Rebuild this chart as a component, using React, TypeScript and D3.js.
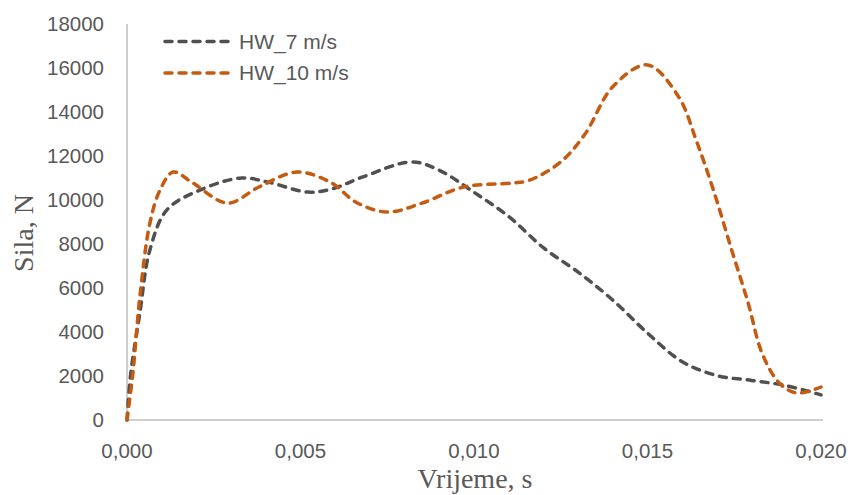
import React from "react";
import * as d3 from "d3";

const yTicks = [0, 2000, 4000, 6000, 8000, 10000, 12000, 14000, 16000, 18000];
const xTicks = [0, 0.005, 0.01, 0.015, 0.02];

const seriesNames = ["HW_7 m/s", "HW_10 m/s"];

const times7 = [0, 0.0001, 0.00037, 0.00066, 0.00115, 0.0021, 0.0033, 0.0041, 0.0052, 0.0059, 0.0068, 0.0082, 0.009, 0.01, 0.011, 0.012, 0.013, 0.014, 0.015, 0.016, 0.017, 0.018, 0.019, 0.02];
const values7 = [0, 2000, 4860, 7730, 9550, 10450, 11000, 10800, 10360, 10500, 11050, 11730, 11350, 10350, 9250, 7830, 6720, 5450, 3950, 2650, 2020, 1800, 1560, 1140];

const times10 = [0, 0.00017, 0.00037, 0.00066, 0.00095, 0.00133, 0.0019, 0.0029, 0.0038, 0.0049, 0.0059, 0.0066, 0.0075, 0.0085, 0.0097, 0.0111, 0.0116, 0.0125, 0.0132, 0.014, 0.015, 0.0159, 0.0164, 0.0169, 0.0174, 0.0179, 0.0183, 0.0188, 0.0193, 0.02];
const values10 = [0, 2136, 5590, 8950, 10450, 11270, 10770, 9860, 10590, 11270, 10770, 9900, 9450, 9860, 10590, 10770, 10900, 11730, 13000, 15150, 16140, 14680, 12730, 10450, 7860, 5320, 3045, 1680, 1230, 1500];

const colors = ["#505050", "#C55A11"];

export default function App() {
  const W = 851, H = 495;
  const x = d3.scaleLinear().domain([0, 0.02]).range([127, 821]);
  const y = d3.scaleLinear().domain([0, 18000]).range([420, 24]);
  const line = d3
    .line<[number, number]>()
    .x((d) => x(d[0]))
    .y((d) => y(d[1]))
    .curve(d3.curveCatmullRom.alpha(0.5));

  const series = [
    times7.map((t, i) => [t, values7[i]] as [number, number]),
    times10.map((t, i) => [t, values10[i]] as [number, number]),
  ];

  const fmtX = (v: number) => v.toFixed(3).replace(".", ",");
  const tickFont = "'Liberation Sans', Arial, sans-serif";
  const serif = "'Liberation Serif', 'Times New Roman', serif";

  return (
    <svg width={W} height={H} style={{ position: "absolute", left: 0, top: 0, background: "#fff" }}>
      <line x1={x(0)} x2={x(0)} y1={y(18000)} y2={y(0)} stroke="#bfbfbf" strokeWidth={1.5} />
      <line x1={x(0)} x2={823} y1={y(0)} y2={y(0)} stroke="#bfbfbf" strokeWidth={1.5} />
      {yTicks.map((t) => (
        <text key={t} x={104} y={y(t)} dy="0.35em" textAnchor="end" fontFamily={tickFont} fontSize={20.5} fill="#595959">
          {t}
        </text>
      ))}
      {xTicks.map((t) => (
        <text key={t} x={x(t)} y={451} dy="0.35em" textAnchor="middle" fontFamily={tickFont} fontSize={20.5} fill="#595959">
          {fmtX(t)}
        </text>
      ))}
      <text x={475} y={488} textAnchor="middle" fontFamily={serif} fontSize={28} fill="#595959">
        Vrijeme, s
      </text>
      <text transform="translate(33,233) rotate(-90)" textAnchor="middle" fontFamily={serif} fontSize={28} fill="#595959">
        Sila, N
      </text>
      {series.map((s, i) => (
        <path key={i} d={line(s) || ""} fill="none" stroke={colors[i]} strokeWidth={3.5} strokeDasharray="7,7" strokeLinecap="round" />
      ))}
      {seriesNames.map((n, i) => (
        <g key={n} transform={`translate(0,${41.5 + i * 31.5})`}>
          <line x1={165} x2={231} y1={0} y2={0} stroke={colors[i]} strokeWidth={3.5} strokeDasharray="7,7" strokeLinecap="round" />
          <text x={239} y={0} dy="0.35em" fontFamily={tickFont} fontSize={21} fill="#595959">
            {n}
          </text>
        </g>
      ))}
    </svg>
  );
}
